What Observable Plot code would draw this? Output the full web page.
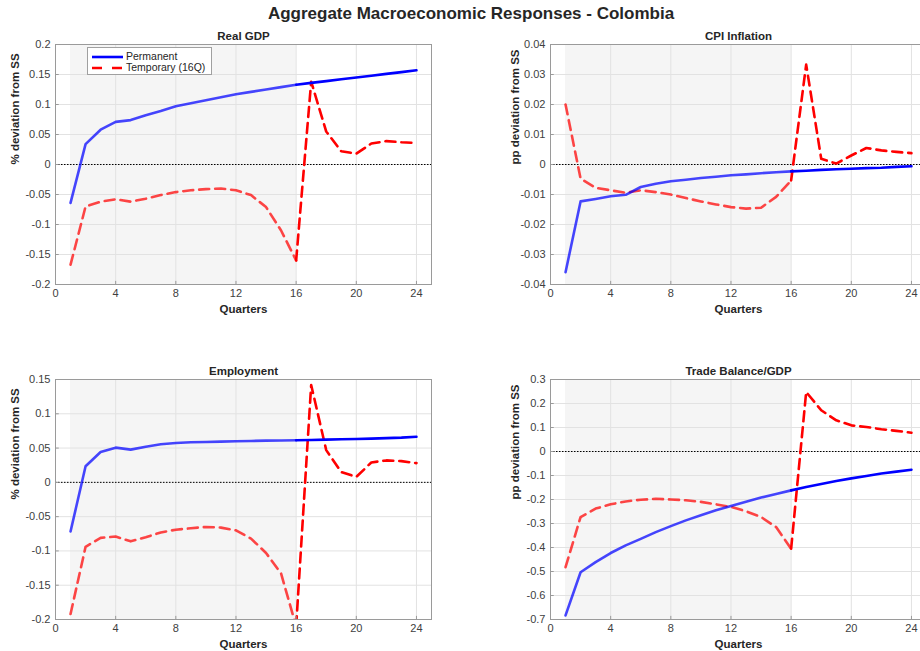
<!DOCTYPE html>
<html>
<head>
<meta charset="utf-8">
<script src="https://cdn.jsdelivr.net/npm/d3@7"></script>
<script src="https://cdn.jsdelivr.net/npm/@observablehq/plot@0.6"></script>
<style>
html, body { margin: 0; padding: 0; background: #fff; overflow: hidden; width: 920px; height: 651px; }
#root { position: relative; width: 920px; height: 651px; font-family: "Liberation Sans", Arial, sans-serif; overflow: hidden; }
#title { position: absolute; left: 0; width: 942px; top: 4px; text-align: center; font-weight: bold; font-size: 17px; color: #262626; }
.panel { position: absolute; }
#legend { position: absolute; left: 87px; top: 47px; width: 123px; height: 26px; background: #fff; border: 1px solid #a0a0a0; font-size: 10.5px; color: #262626; }
#legend .row { position: absolute; left: 4px; height: 12px; line-height: 12px; white-space: nowrap; }
#legend svg { vertical-align: middle; }
</style>
</head>
<body>
<div id="root">
  <div id="title">Aggregate Macroeconomic Responses - Colombia</div>
</div>
<script>
// ---------- data ----------
const quarters = [1,2,3,4,5,6,7,8,9,10,11,12,13,14,15,16,17,18,19,20,21,22,23,24];
const xTicks = [0,4,8,12,16,20,24];
const shockStart = 1;
const shockEnd = 16;

// Real GDP (% deviation from SS)
const gdpPermanent = [-0.064,0.034,0.058,0.071,0.074,0.082,0.089,0.097,0.102,0.107,0.112,0.117,0.121,0.125,0.129,0.133,0.136,0.139,0.142,0.145,0.148,0.151,0.154,0.157];
const gdpTemporary = [-0.167,-0.070,-0.062,-0.058,-0.062,-0.057,-0.051,-0.046,-0.043,-0.041,-0.040,-0.043,-0.051,-0.071,-0.110,-0.160,0.138,0.055,0.022,0.018,0.035,0.039,0.037,0.036];
const gdpTicks = [-0.2,-0.15,-0.1,-0.05,0,0.05,0.1,0.15,0.2];

// CPI Inflation (pp deviation from SS)
const cpiPermanent = [-0.0359,-0.0123,-0.0115,-0.0106,-0.0101,-0.0075,-0.0064,-0.0056,-0.0051,-0.0045,-0.0041,-0.0036,-0.0033,-0.0029,-0.0026,-0.0023,-0.0021,-0.0018,-0.0016,-0.0014,-0.0012,-0.0011,-0.0008,-0.0006];
const cpiTemporary = [0.0200,-0.0047,-0.0078,-0.0086,-0.0094,-0.0086,-0.0092,-0.0100,-0.0112,-0.0123,-0.0133,-0.0142,-0.0147,-0.0144,-0.0108,-0.0053,0.0333,0.0019,0.0003,0.0030,0.0055,0.0047,0.0042,0.0038];
const cpiTicks = [-0.04,-0.03,-0.02,-0.01,0,0.01,0.02,0.03,0.04];

// Employment (% deviation from SS)
const empPermanent = [-0.0716,0.0234,0.0443,0.0506,0.0477,0.0520,0.0555,0.0574,0.0584,0.0589,0.0594,0.0599,0.0604,0.0609,0.0611,0.0613,0.0618,0.0623,0.0628,0.0633,0.0638,0.0645,0.0652,0.0665];
const empTemporary = [-0.192,-0.094,-0.081,-0.079,-0.086,-0.080,-0.073,-0.069,-0.067,-0.065,-0.066,-0.070,-0.082,-0.103,-0.133,-0.210,0.142,0.047,0.015,0.008,0.029,0.032,0.031,0.028];
const empTicks = [-0.2,-0.15,-0.1,-0.05,0,0.05,0.1,0.15];

// Trade Balance/GDP (pp deviation from SS)
const tbPermanent = [-0.683,-0.503,-0.461,-0.423,-0.391,-0.364,-0.336,-0.311,-0.287,-0.266,-0.245,-0.227,-0.209,-0.192,-0.177,-0.162,-0.148,-0.135,-0.123,-0.112,-0.102,-0.092,-0.084,-0.076];
const tbTemporary = [-0.482,-0.273,-0.238,-0.220,-0.208,-0.201,-0.197,-0.200,-0.203,-0.210,-0.220,-0.231,-0.249,-0.273,-0.315,-0.405,0.248,0.172,0.130,0.109,0.102,0.093,0.086,0.078];
const tbTicks = [-0.7,-0.6,-0.5,-0.4,-0.3,-0.2,-0.1,0,0.1,0.2,0.3];

const seriesNames = ["Permanent", "Temporary (16Q)"];
const seriesColors = ["#0000ff", "#ff0000"];

// ---------- drawing ----------
const fmt = d => String(Math.round(d * 10000) / 10000);

function rows(values, series) {
  const out = [];
  quarters.forEach((q, i) => {
    if (q <= shockEnd) out.push({q, v: values[i], series, seg: "during"});
    if (q >= shockEnd) out.push({q, v: values[i], series, seg: "after"});
  });
  return out;
}

function panel({title, ylabel, perm, temp, yTicks, left, top, marginLeft, marginBottom, width, labelDx}) {
  const yDomain = [yTicks[0], yTicks[yTicks.length - 1]];
  const span = yDomain[1] - yDomain[0];
  const data = rows(perm, seriesNames[0]).concat(rows(temp, seriesNames[1]));
  const lineStyle = (series, seg) => ({
    x: "q", y: "v",
    stroke: seriesColors[seriesNames.indexOf(series)],
    strokeOpacity: seg === "during" ? 0.72 : 1,
    strokeWidth: 2.6,
    strokeDasharray: series === seriesNames[1] ? "10,6" : null,
    clip: true
  });
  const subset = (series, seg) => data.filter(d => d.series === series && d.seg === seg);
  const chart = Plot.plot({
    width,
    height: 19 + 240 + marginBottom,
    marginTop: 19,
    marginBottom,
    marginLeft,
    marginRight: width - marginLeft - 376,
    style: {fontFamily: '"Liberation Sans", Arial, sans-serif', fontSize: "11px", color: "#404040", background: "transparent", overflow: "visible"},
    x: {type: "linear", domain: [0, 25], axis: null},
    y: {type: "linear", domain: yDomain, axis: null},
    marks: [
      Plot.rect([{x1: shockStart, x2: shockEnd, y1: yDomain[0], y2: yDomain[1]}], {x1: "x1", x2: "x2", y1: "y1", y2: "y2", fill: "#f5f5f5"}),
      Plot.gridX(xTicks, {stroke: "#e2e2e2", strokeOpacity: 1, strokeWidth: 1}),
      Plot.gridY(yTicks, {stroke: "#e2e2e2", strokeOpacity: 1, strokeWidth: 1}),
      Plot.ruleY([0], {stroke: "#000", strokeWidth: 1, strokeDasharray: "1.5,1.5"}),
      Plot.line(subset(seriesNames[1], "during"), lineStyle(seriesNames[1], "during")),
      Plot.line(subset(seriesNames[0], "during"), lineStyle(seriesNames[0], "during")),
      Plot.line(subset(seriesNames[1], "after"), lineStyle(seriesNames[1], "after")),
      Plot.line(subset(seriesNames[0], "after"), lineStyle(seriesNames[0], "after")),
      Plot.ruleX(xTicks, {x: d => d, y1: yDomain[0], y2: yDomain[0] + span * 0.013, stroke: "#9a9a9a"}),
      Plot.ruleY(yTicks, {y: d => d, x1: 0, x2: 0.25, stroke: "#9a9a9a"}),
      Plot.frame({stroke: "#9a9a9a", strokeWidth: 1}),
      Plot.axisX(xTicks, {tickSize: 0, tickPadding: 5, tickFormat: fmt, label: null, fill: "#404040"}),
      Plot.axisY(yTicks, {tickSize: 0, tickPadding: 5, tickFormat: fmt, label: null, fill: "#404040"}),
      Plot.text([title], {frameAnchor: "top", lineAnchor: "middle", dy: -8, fontWeight: "bold", fontSize: 11.5, fill: "#262626"}),
      Plot.text(["Quarters"], {frameAnchor: "bottom", lineAnchor: "middle", dy: 24.5, fontWeight: "bold", fontSize: 11.5, fill: "#262626"}),
      Plot.text([ylabel], {frameAnchor: "left", dx: labelDx, rotate: -90, fontWeight: "bold", fontSize: 11.5, fill: "#262626"})
    ]
  });
  chart.classList.add("panel");
  chart.style.left = left + "px";
  chart.style.top = top + "px";
  document.getElementById("root").appendChild(chart);
}

panel({title: "Real GDP", ylabel: "% deviation from SS", perm: gdpPermanent, temp: gdpTemporary, yTicks: gdpTicks,
  left: 0, top: 25, marginLeft: 55, marginBottom: 36, width: 440, labelDx: -40});
panel({title: "CPI Inflation", ylabel: "pp deviation from SS", perm: cpiPermanent, temp: cpiTemporary, yTicks: cpiTicks,
  left: 490, top: 25, marginLeft: 60, marginBottom: 36, width: 440, labelDx: -35});
panel({title: "Employment", ylabel: "% deviation from SS", perm: empPermanent, temp: empTemporary, yTicks: empTicks,
  left: 0, top: 360, marginLeft: 55, marginBottom: 32, width: 440, labelDx: -40});
panel({title: "Trade Balance/GDP", ylabel: "pp deviation from SS", perm: tbPermanent, temp: tbTemporary, yTicks: tbTicks,
  left: 490, top: 360, marginLeft: 60, marginBottom: 32, width: 440, labelDx: -35});

// legend
const legend = document.createElement("div");
legend.id = "legend";
seriesNames.forEach((name, i) => {
  const row = document.createElement("div");
  row.className = "row";
  row.style.top = (1.5 + i * 11.5) + "px";
  const dash = i === 1 ? 'stroke-dasharray="10,10"' : "";
  row.innerHTML = `<svg width="31" height="6"><line x1="0" y1="3" x2="31" y2="3" stroke="${seriesColors[i]}" stroke-width="2.6" ${dash}/></svg><span style="margin-left:3px">${name}</span>`;
  legend.appendChild(row);
});
document.getElementById("root").appendChild(legend);
</script>
</body>
</html>
